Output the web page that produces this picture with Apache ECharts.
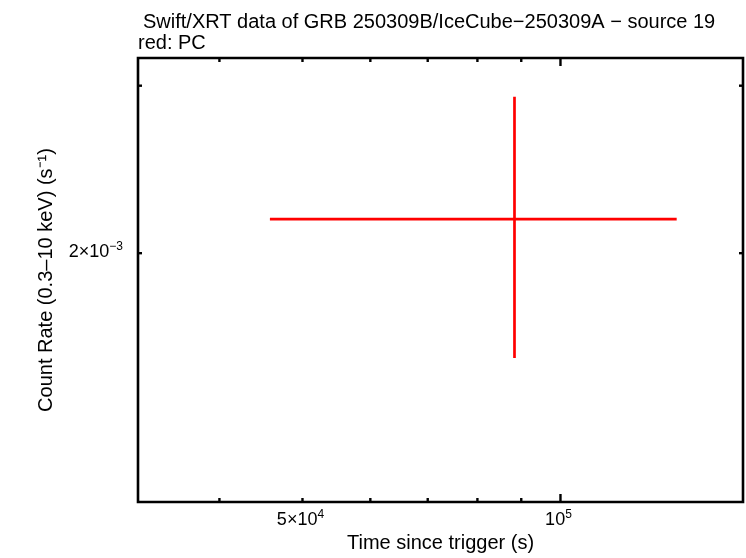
<!DOCTYPE html>
<html>
<head>
<meta charset="utf-8">
<script src="https://cdn.jsdelivr.net/npm/echarts@6/dist/echarts.min.js"></script>
<style>html,body{margin:0;padding:0;background:#fff}#c{width:746px;height:558px}</style>
</head>
<body>
<div id="c"></div>
<script>
// ---- data ----
const titleText = 'Swift/XRT data of GRB 250309B/IceCube\u2212250309A \u2212 source 19';
const subtitleText = 'red: PC';
const xName = 'Time since trigger (s)';
const yName = 'Count Rate (0.3\u201310 keV) (s\u207B\u00B9)';
const xRange = [32140, 163300];
const yRange = [1.095e-3, 3.208e-3];
// PC point: time, time low, time high, rate, rate low, rate high
const pcTime = [88380];
const pcTimeLo = [45810];
const pcTimeHi = [136650];
const pcRate = [2.172e-3];
const pcRateLo = [1.552e-3];
const pcRateHi = [2.921e-3];
// ticks
const xMajorTicks = [1e5];
const xMinorTicks = [4e4, 5e4, 6e4, 7e4, 8e4, 9e4];
const yMinorTicks = [2e-3, 3e-3];
const xTickLabels = [[5e4, '5\u00D710', '4'], [1e5, '10', '5']];
const yTickLabels = [[2e-3, '2\u00D710', '\u22123']];

const FONT = '"Liberation Sans", Arial, Helvetica, sans-serif';
const chart = echarts.init(document.getElementById('c'), null, {renderer: 'canvas'});

const pcData = pcTime.map((t, i) => [t, pcRate[i], pcTimeLo[i], pcTimeHi[i], pcRateLo[i], pcRateHi[i]]);

const tickData = [];
xMajorTicks.forEach(v => tickData.push(['x', v, 8]));
xMinorTicks.forEach(v => tickData.push(['x', v, 4]));
yMinorTicks.forEach(v => tickData.push(['y', v, 4]));

const labelData = [];
xTickLabels.forEach(l => labelData.push(['x', l[0], l[1], l[2]]));
yTickLabels.forEach(l => labelData.push(['y', l[0], l[1], l[2]]));

const option = {
  backgroundColor: '#fff',
  animation: false,
  title: [
    {text: titleText, left: 138, top: 7, textStyle: {fontFamily: FONT, fontSize: 20, fontWeight: 'normal', color: '#000'}},
    {text: subtitleText, left: 133, top: 28, textStyle: {fontFamily: FONT, fontSize: 20, fontWeight: 'normal', color: '#000'}}
  ],
  grid: {left: 138, right: 3, top: 58, bottom: 52, show: true, borderColor: '#000', borderWidth: 2.6, backgroundColor: 'transparent'},
  xAxis: {
    type: 'log', logBase: 10, min: xRange[0], max: xRange[1],
    name: xName, nameLocation: 'middle', nameGap: 31,
    nameTextStyle: {fontFamily: FONT, fontSize: 20, color: '#000'},
    axisLine: {show: false}, axisTick: {show: false}, axisLabel: {show: false}, splitLine: {show: false}
  },
  yAxis: {
    type: 'log', logBase: 10, min: yRange[0], max: yRange[1],
    name: yName, nameLocation: 'middle', nameGap: 82,
    nameTextStyle: {fontFamily: FONT, fontSize: 20, color: '#000'},
    axisLine: {show: false}, axisTick: {show: false}, axisLabel: {show: false}, splitLine: {show: false}
  },
  series: [
    {
      type: 'custom', name: 'ticks', clip: false, silent: true,
      data: tickData,
      renderItem: function (params, api) {
        const kind = tickData[params.dataIndex][0];
        const v = tickData[params.dataIndex][1];
        const len = tickData[params.dataIndex][2];
        const st = {stroke: '#000', lineWidth: 2.4};
        if (kind === 'x') {
          const b = api.coord([v, yRange[0]]);
          const t = api.coord([v, yRange[1]]);
          return {type: 'group', children: [
            {type: 'line', shape: {x1: b[0], y1: b[1], x2: b[0], y2: b[1] - len}, style: st},
            {type: 'line', shape: {x1: t[0], y1: t[1], x2: t[0], y2: t[1] + len}, style: st}
          ]};
        } else {
          const l = api.coord([xRange[0], v]);
          const r = api.coord([xRange[1], v]);
          return {type: 'group', children: [
            {type: 'line', shape: {x1: l[0], y1: l[1], x2: l[0] + len, y2: l[1]}, style: st},
            {type: 'line', shape: {x1: r[0], y1: r[1], x2: r[0] - len, y2: r[1]}, style: st}
          ]};
        }
      }
    },
    {
      type: 'custom', name: 'tickLabels', clip: false, silent: true,
      data: labelData,
      renderItem: function (params, api) {
        const d = labelData[params.dataIndex];
        const rich = {
          m: {fontFamily: FONT, fontSize: 18, color: '#000', verticalAlign: 'bottom', lineHeight: 20},
          s: {fontFamily: FONT, fontSize: 12, color: '#000', verticalAlign: 'top', padding: [0, 0, 9, 0], lineHeight: 20}
        };
        const txt = '{m|' + d[2] + '}{s|' + d[3] + '}';
        if (d[0] === 'x') {
          const p = api.coord([d[1], yRange[0]]);
          return {type: 'text', x: p[0] - 2, y: p[1] + 7, style: {text: txt, rich: rich, align: 'center', verticalAlign: 'top'}};
        } else {
          const p = api.coord([xRange[0], d[1]]);
          return {type: 'text', x: p[0] - 15, y: p[1] - 2, style: {text: txt, rich: rich, align: 'right', verticalAlign: 'middle'}};
        }
      }
    },
    {
      type: 'custom', name: 'PC', clip: false,
      data: pcData,
      renderItem: function (params, api) {
        const c = api.coord([api.value(0), api.value(1)]);
        const xl = api.coord([api.value(2), api.value(1)]);
        const xh = api.coord([api.value(3), api.value(1)]);
        const yl = api.coord([api.value(0), api.value(4)]);
        const yh = api.coord([api.value(0), api.value(5)]);
        const st = {stroke: '#ff0000', lineWidth: 2.7};
        return {type: 'group', children: [
          {type: 'line', shape: {x1: xl[0], y1: c[1], x2: xh[0], y2: c[1]}, style: st},
          {type: 'line', shape: {x1: c[0], y1: yl[1], x2: c[0], y2: yh[1]}, style: st}
        ]};
      }
    }
  ]
};
chart.setOption(option);
</script>
</body>
</html>
